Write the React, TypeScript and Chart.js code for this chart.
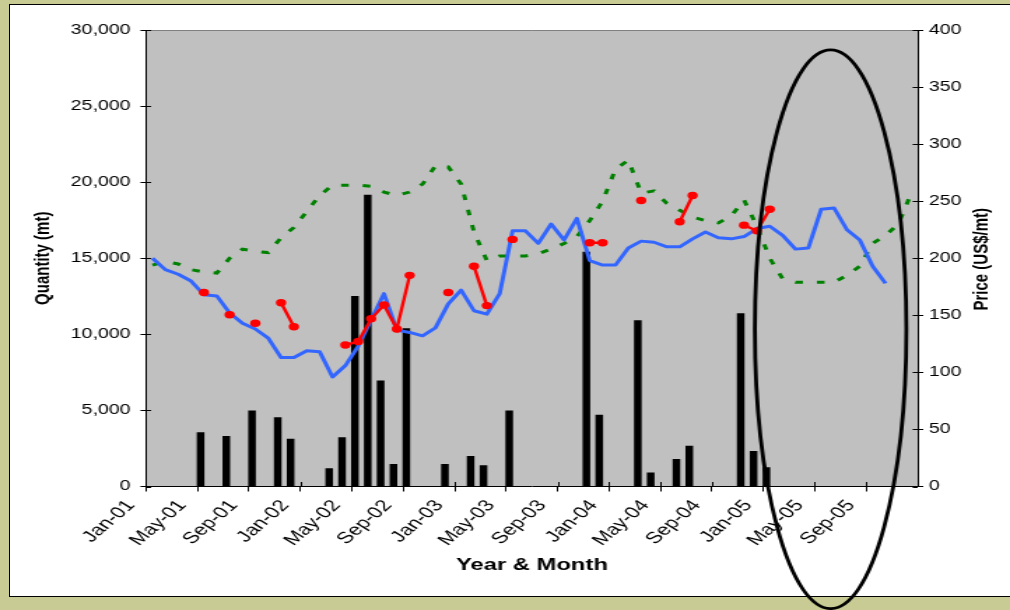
import React, { useEffect, useRef } from "react";
import { Chart, registerables } from "chart.js";

Chart.register(...registerables);

// ---------- data ----------
const months: string[] = [
  "Jan-01", "Feb-01", "Mar-01", "Apr-01", "May-01", "Jun-01", "Jul-01", "Aug-01", "Sep-01", "Oct-01", "Nov-01", "Dec-01",
  "Jan-02", "Feb-02", "Mar-02", "Apr-02", "May-02", "Jun-02", "Jul-02", "Aug-02", "Sep-02", "Oct-02", "Nov-02", "Dec-02",
  "Jan-03", "Feb-03", "Mar-03", "Apr-03", "May-03", "Jun-03", "Jul-03", "Aug-03", "Sep-03", "Oct-03", "Nov-03", "Dec-03",
  "Jan-04", "Feb-04", "Mar-04", "Apr-04", "May-04", "Jun-04", "Jul-04", "Aug-04", "Sep-04", "Oct-04", "Nov-04", "Dec-04",
  "Jan-05", "Feb-05", "Mar-05", "Apr-05", "May-05", "Jun-05", "Jul-05", "Aug-05", "Sep-05", "Oct-05", "Nov-05", "Dec-05",
];

// Quantity (mt), left axis - black bars
const quantity: (number | null)[] = [
  null, null, null, null, 3550, null, 3300, null, 4980, null, 4530, 3120,
  null, null, 1170, 3210, 12500, 19150, 6950, 1450, 10370, null, null, 1450,
  null, 1980, 1370, null, 4980, null, null, null, null, null, 15400, 4690,
  null, null, 10900, 900, null, 1780, 2660, null, null, null, 11360, 2310,
  1250, null, null, null, null, null, null, null, null, null, null, null,
];
// second (empty) quantity series - keeps the clustered bar slot of the original
const quantityB: (number | null)[] = months.map(() => null);

// Price (US$/mt), right axis - blue line
const priceBlue: (number | null)[] = [
  200, 190, 186, 180, 168, 167, 152, 143, 138, 130, 113, 113,
  119, 118, 96, 106, 123, 146, 169, 137, 135, 132, 139, 160,
  172, 154, 151, 169, 224, 224, 213, 230, 216, 235, 198, 194,
  194, 209, 215, 214, 210, 210, 217, 223, 218, 217, 219, 226,
  228, 220, 208, 209, 243, 244, 225, 216, 193, 178, null, null,
];

// Price (US$/mt), right axis - green dashed line
const priceGreen: (number | null)[] = [
  194, 197, 195, 190, 188, 187, 200, 208, 206, 205, 218, 227,
  241, 255, 264, 264, 264, 263, 258, 255, 258, 265, 281, 280,
  265, 223, 198, 202, 202, 202, 204, 208, 213, 219, 233, 250,
  278, 286, 257, 259, 248, 242, 236, 233, 231, 237, 251, 228,
  200, 182, 179, 179, 179, 179, 185, 193, 213, 220, 230, 257,
];

// Price (US$/mt), right axis - red points / segments
const priceRed: (number | null)[] = [
  null, null, null, null, 170, null, 150.5, null, 143, null, 161, 140,
  null, null, null, 124, 127, 147, 159, 138, 185, null, null, 170,
  null, 193, 158.5, null, 216.5, null, null, null, null, null, 213.6, 213.6,
  null, null, 250.6, null, null, 232, 255, null, null, null, 229, 224,
  243, null, null, null, null, null, null, null, null, null, null, null,
];

const QTY_MAX = 30000;
const QTY_STEP = 5000;
const PRICE_MAX = 400;
const PRICE_STEP = 50;
const LABEL_EVERY = 4;

const X_TITLE = "Year & Month";
const Y_TITLE = "Quantity (mt)";
const Y1_TITLE = "Price (US$/mt)";

// highlighted region (ellipse annotation) in axis units
const HIGHLIGHT = { centerCat: 52.73, halfCats: 5.89, priceTop: 382.5, priceBottom: -107 };

// ---------- look ----------
const FONT = "'Liberation Sans', Arial, sans-serif";
const OLIVE = "#C8CC94";
const PLOT_BG = "#C0C0C0";
const CANVAS_W = 722; // drawn narrower, displayed stretched to 1010px like the original
const CANVAS_H = 610;

Chart.defaults.font.family = FONT;
Chart.defaults.color = "#000";

const decorPlugin = {
  id: "decor",
  beforeDraw(chart: any) {
    const { ctx, chartArea: a } = chart;
    ctx.save();
    ctx.fillStyle = PLOT_BG;
    ctx.fillRect(a.left, a.top, a.right - a.left, a.bottom - a.top);
    ctx.strokeStyle = "#808080";
    ctx.lineWidth = 1;
    ctx.beginPath();
    ctx.moveTo(a.left, Math.round(a.top) + 0.5);
    ctx.lineTo(a.right, Math.round(a.top) + 0.5);
    ctx.stroke();
    ctx.restore();
  },
  beforeDatasetsDraw(chart: any) {
    // inner halves of the crossing tick marks
    const { ctx, chartArea: a, scales } = chart;
    ctx.save();
    ctx.strokeStyle = "#000";
    ctx.lineWidth = 1;
    ctx.beginPath();
    scales.y.ticks.forEach((t: any) => {
      const p = Math.round(scales.y.getPixelForValue(t.value)) + 0.5;
      ctx.moveTo(a.left, p);
      ctx.lineTo(a.left + 3.6, p);
    });
    scales.y1.ticks.forEach((t: any) => {
      const p = Math.round(scales.y1.getPixelForValue(t.value)) + 0.5;
      ctx.moveTo(a.right, p);
      ctx.lineTo(a.right - 3.6, p);
    });
    for (let i = 0; i <= months.length; i += LABEL_EVERY) {
      const p = Math.round(scales.x.getPixelForValue(i - 0.5)) + 0.5;
      ctx.moveTo(p, a.bottom);
      ctx.lineTo(p, a.bottom - 4.5);
    }
    ctx.stroke();
    ctx.restore();
  },
  afterDraw(chart: any) {
    const { ctx, scales } = chart;
    // right axis title, reading bottom-to-top
    ctx.save();
    ctx.translate(scales.y1.right - 19.7, (scales.y1.top + scales.y1.bottom) / 2 + 1);
    ctx.rotate(-Math.PI / 2);
    ctx.font = `bold 15px ${FONT}`;
    ctx.fillStyle = "#000";
    ctx.textAlign = "center";
    ctx.textBaseline = "middle";
    ctx.fillText(Y1_TITLE, 0, 0);
    ctx.restore();

    // highlight ellipse
    const cx = scales.x.getPixelForValue(HIGHLIGHT.centerCat);
    const catW = scales.x.getPixelForValue(1) - scales.x.getPixelForValue(0);
    const yt = scales.y1.getPixelForValue(HIGHLIGHT.priceTop);
    const yb = scales.y1.getPixelForValue(HIGHLIGHT.priceBottom);
    ctx.save();
    ctx.beginPath();
    ctx.ellipse(cx, (yt + yb) / 2, HIGHLIGHT.halfCats * catW, (yb - yt) / 2, 0, 0, Math.PI * 2);
    ctx.lineWidth = 2.8;
    ctx.strokeStyle = "#000";
    ctx.stroke();
    ctx.restore();
  },
};

export default function App() {
  const ref = useRef<HTMLCanvasElement | null>(null);

  useEffect(() => {
    const canvas = ref.current;
    if (!canvas) return;
    const chart = new Chart(canvas, {
      type: "bar",
      data: {
        labels: months,
        datasets: [
          {
            type: "line",
            label: "Price (red)",
            data: priceRed,
            yAxisID: "y1",
            borderColor: "#FF0000",
            backgroundColor: "#FF0000",
            borderWidth: 2.4,
            pointRadius: 3.7,
            pointHoverRadius: 3.7,
            pointBorderWidth: 0,
            pointBackgroundColor: "#FF0000",
            spanGaps: false,
            order: 0,
          } as any,
          {
            type: "line",
            label: "Price (blue)",
            data: priceBlue,
            yAxisID: "y1",
            borderColor: "#3366FF",
            borderWidth: 3,
            borderJoinStyle: "round",
            pointRadius: 0,
            order: 1,
          } as any,
          {
            type: "line",
            label: "Price (green)",
            data: priceGreen,
            yAxisID: "y1",
            borderColor: "#008000",
            borderWidth: 3,
            borderDash: [5.5, 10],
            pointRadius: 0,
            order: 2,
          } as any,
          {
            type: "bar",
            label: "Quantity",
            data: quantity,
            yAxisID: "y",
            backgroundColor: "#000",
            barThickness: 4.8,
            order: 3,
          } as any,
          {
            type: "bar",
            label: "Quantity (b)",
            data: quantityB,
            yAxisID: "y",
            backgroundColor: "#000",
            barThickness: 4.8,
            order: 4,
          } as any,
        ],
      },
      options: {
        responsive: false,
        animation: false,
        events: [],
        layout: { padding: { left: 0, top: 30, right: 0, bottom: 0 } },
        plugins: { legend: { display: false }, tooltip: { enabled: false } },
        scales: {
          x: {
            type: "category",
            offset: true,
            grid: {
              offset: true,
              drawOnChartArea: false,
              tickLength: 5,
              tickWidth: 1,
              tickColor: (c: any) =>
                c.index !== undefined && c.index % LABEL_EVERY === 0 ? "#000" : "rgba(0,0,0,0)",
            },
            border: { color: "#000", width: 1 },
            ticks: {
              autoSkip: false,
              minRotation: 50,
              maxRotation: 50,
              labelOffset: -15.5,
              padding: 5,
              font: { size: 16 },
              color: "#000",
              callback: (_v: any, i: number) => (i % LABEL_EVERY === 0 ? months[i] : ""),
            },
            title: {
              display: true,
              text: X_TITLE,
              color: "#000",
              font: { size: 17, weight: "bold" },
              padding: { top: 0, bottom: 34.3 },
            },
            afterFit: (s: any) => {
              s.height = 123.5;
            },
          } as any,
          y: {
            position: "left",
            min: 0,
            max: QTY_MAX,
            ticks: {
              stepSize: QTY_STEP,
              padding: 7,
              font: { size: 14 },
              color: "#000",
              callback: (v: any) => Number(v).toLocaleString("en-US"),
            },
            grid: { drawOnChartArea: false, tickLength: 4, tickColor: "#000" },
            border: { color: "#000", width: 1 },
            title: {
              display: true,
              text: Y_TITLE,
              color: "#000",
              font: { size: 15, weight: "bold" },
              padding: { top: 22.1, bottom: 0 },
            },
            afterFit: (s: any) => {
              s.width = 104.4;
            },
          } as any,
          y1: {
            position: "right",
            min: 0,
            max: PRICE_MAX,
            ticks: { stepSize: PRICE_STEP, padding: 4, font: { size: 14 }, color: "#000" },
            grid: { drawOnChartArea: false, tickLength: 4, tickColor: "#000" },
            border: { color: "#000", width: 1 },
            afterFit: (s: any) => {
              s.width = 66;
            },
          } as any,
        },
      },
      plugins: [decorPlugin],
    });
    return () => chart.destroy();
  }, []);

  return (
    <div
      style={{
        position: "absolute",
        left: 0,
        top: 0,
        width: 1010,
        height: 610,
        overflow: "hidden",
        background: OLIVE,
      }}
    >
      <div
        style={{
          position: "absolute",
          left: 9,
          top: 4,
          width: 1010,
          height: 593,
          boxSizing: "border-box",
          border: "1px solid #000",
          background: "#fff",
        }}
      />
      <canvas
        ref={ref}
        width={CANVAS_W}
        height={CANVAS_H}
        style={{ position: "absolute", left: 0, top: 0, width: "1010px", height: "610px" }}
      />
    </div>
  );
}
